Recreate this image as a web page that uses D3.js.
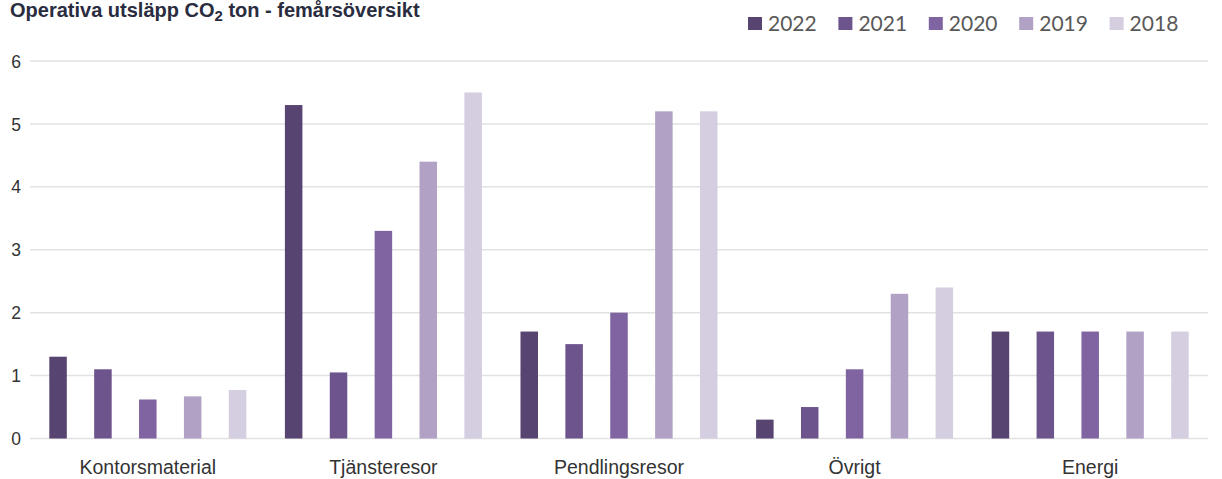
<!DOCTYPE html>
<html>
<head>
<meta charset="utf-8">
<script src="https://cdn.jsdelivr.net/npm/d3@7"></script>
<style>
  html, body { margin: 0; padding: 0; background: #fff; }
  svg { display: block; }
</style>
</head>
<body>
<svg id="chart" width="1222" height="479"></svg>
<script>
const categories = ["Kontorsmaterial", "Tjänsteresor", "Pendlingsresor", "Övrigt", "Energi"];
const years = ["2022", "2021", "2020", "2019", "2018"];
const values2022 = [1.3, 5.3, 1.7, 0.3, 1.7];
const values2021 = [1.1, 1.05, 1.5, 0.5, 1.7];
const values2020 = [0.62, 3.3, 2.0, 1.1, 1.7];
const values2019 = [0.67, 4.4, 5.2, 2.3, 1.7];
const values2018 = [0.77, 5.5, 5.2, 2.4, 1.7];
const yTicks = [0, 1, 2, 3, 4, 5, 6];
const colors = ["#574470", "#6d548c", "#8063a1", "#b1a2c5", "#d4cee0"];

const seriesValues = [values2022, values2021, values2020, values2019, values2018];
const data = categories.map((c, i) => ({
  category: c,
  vals: years.map((y, j) => ({ year: y, value: seriesValues[j][i] }))
}));

const svg = d3.select("#chart");

const x0 = d3.scaleBand().domain(categories).range([30, 1208]).paddingInner(0).paddingOuter(0);
const x1 = d3.scaleBand().domain(years).range([0, x0.bandwidth()]).paddingInner(0.61).paddingOuter(0.43);
const y = d3.scaleLinear().domain([0, 6]).range([438.5, 61]);
const color = d3.scaleOrdinal().domain(years).range(colors);

// gridlines
svg.append("g").selectAll("line").data(yTicks).join("line")
  .attr("x1", 30).attr("x2", 1208)
  .attr("y1", d => y(d)).attr("y2", d => y(d))
  .attr("stroke", "#e2e2e2").attr("stroke-width", 1.5);

// y axis labels
const yAxis = d3.axisLeft(y).tickValues(yTicks).tickSize(0).tickPadding(0).tickFormat(d3.format("d"));
const yg = svg.append("g").attr("transform", "translate(21,0)").call(yAxis);
yg.select(".domain").remove();
yg.selectAll("text")
  .attr("font-family", "Liberation Sans, Arial, sans-serif")
  .attr("font-size", 17.5).attr("fill", "#333").attr("dy", "0.35em");

// bars
svg.append("g").selectAll("g").data(data).join("g")
  .attr("transform", d => `translate(${x0(d.category)},0)`)
  .selectAll("rect").data(d => d.vals).join("rect")
  .attr("x", d => x1(d.year))
  .attr("width", x1.bandwidth())
  .attr("y", d => y(d.value))
  .attr("height", d => y(0) - y(d.value))
  .attr("fill", d => color(d.year));

// x axis labels
const xAxis = d3.axisBottom(x0).tickSize(0).tickPadding(0);
const xg = svg.append("g").attr("transform", "translate(0,474)").call(xAxis);
xg.select(".domain").remove();
xg.selectAll("text")
  .attr("font-family", "Liberation Sans, Arial, sans-serif")
  .attr("font-size", 19.5).attr("fill", "#333").attr("dy", 0).attr("y", 0);

// title
const title = svg.append("text")
  .attr("x", 10).attr("y", 17)
  .attr("font-family", "Liberation Sans, Arial, sans-serif")
  .attr("font-weight", "bold").attr("font-size", 20).attr("fill", "#2a2c40");
title.append("tspan").text("Operativa utsläpp CO");
title.append("tspan").attr("font-size", 15).attr("dy", 4).text("2");
title.append("tspan").attr("dy", -4).text(" ton - femårsöversikt");

// legend
const legendX = d3.scaleBand().domain(years).range([748, 1200]).paddingInner(0).paddingOuter(0);
const lg = svg.append("g").selectAll("g").data(years).join("g")
  .attr("transform", d => `translate(${legendX(d)},0)`);
lg.append("rect").attr("x", 0).attr("y", 17).attr("width", 14).attr("height", 13)
  .attr("fill", d => color(d));
lg.append("text").attr("x", 20).attr("y", 30.5)
  .attr("font-family", "Lato, Open Sans, sans-serif").attr("font-size", 21)
  .attr("fill", "#595959").text(d => d);
</script>
</body>
</html>
